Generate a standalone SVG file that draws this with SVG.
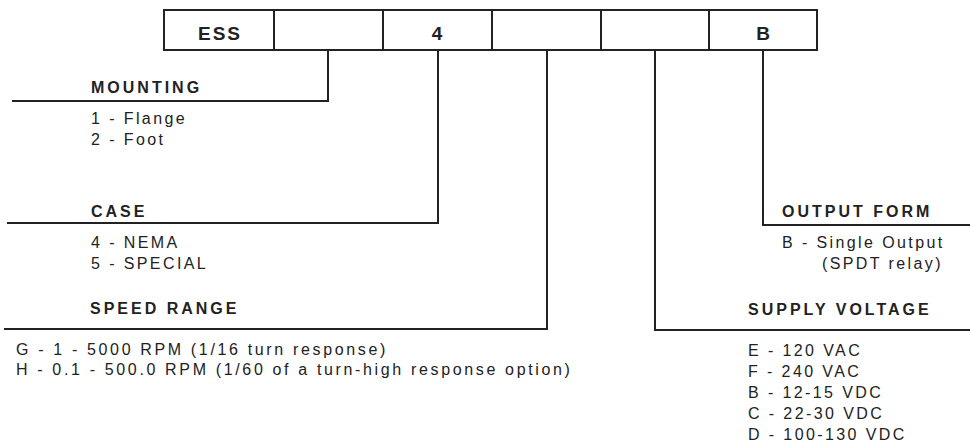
<svg xmlns="http://www.w3.org/2000/svg" width="970" height="443" viewBox="0 0 970 443">
<style>
.ln{fill:none;stroke:#222;stroke-width:2}
.t{font-family:"Liberation Sans",Arial,sans-serif;font-size:16px;letter-spacing:2.4px;fill:#222}
.w{letter-spacing:2.65px}
.h{font-family:"Liberation Sans",Arial,sans-serif;font-size:16px;font-weight:bold;letter-spacing:3px;fill:#222}
.c{font-family:"Liberation Sans",Arial,sans-serif;font-size:19px;font-weight:bold;fill:#222;text-anchor:middle}
</style>
<rect width="970" height="443" fill="#fff"/>
<g id="code-frame">
<rect class="ln" x="164" y="10" width="653" height="40"/>
<line class="ln" x1="274" y1="10" x2="274" y2="50"/>
<line class="ln" x1="383" y1="10" x2="383" y2="50"/>
<line class="ln" x1="492" y1="10" x2="492" y2="50"/>
<line class="ln" x1="601" y1="10" x2="601" y2="50"/>
<line class="ln" x1="709" y1="10" x2="709" y2="50"/>
<text class="c" x="220" y="40" letter-spacing="2">ESS</text>
<text class="c" x="437" y="40">4</text>
<text class="c" x="763" y="40">B</text>
</g>
<g id="connectors">
<polyline class="ln" points="328,50 328,101 12,101"/>
<polyline class="ln" points="438,50 438,223 7,223"/>
<polyline class="ln" points="547,50 547,329 4,329"/>
<polyline class="ln" points="655,50 655,330 970,330"/>
<polyline class="ln" points="763,50 763,225 970,225"/>
</g>
<g id="mounting">
<text class="h" x="91" y="93">MOUNTING</text>
<text class="t" x="91" y="124">1 - Flange</text>
<text class="t" x="91" y="145">2 - Foot</text>
</g>
<g id="case">
<text class="h" x="91" y="217">CASE</text>
<text class="t" x="91" y="248">4 - NEMA</text>
<text class="t" x="91" y="269">5 - SPECIAL</text>
</g>
<g id="speed-range">
<text class="h" x="90" y="314">SPEED RANGE</text>
<text class="t w" x="16" y="355">G - 1 - 5000 RPM (1/16 turn response)</text>
<text class="t w" x="16" y="375">H - 0.1 - 500.0 RPM (1/60 of a turn-high response option)</text>
</g>
<g id="output-form">
<text class="h" x="782" y="217">OUTPUT FORM</text>
<text class="t" x="782" y="248">B - Single Output</text>
<text class="t" x="822" y="269">(SPDT relay)</text>
</g>
<g id="supply-voltage">
<text class="h" x="748" y="315">SUPPLY VOLTAGE</text>
<text class="t" x="748" y="356">E - 120 VAC</text>
<text class="t" x="748" y="377">F - 240 VAC</text>
<text class="t" x="748" y="398">B - 12-15 VDC</text>
<text class="t" x="748" y="419">C - 22-30 VDC</text>
<text class="t" x="748" y="440">D - 100-130 VDC</text>
</g>
</svg>
